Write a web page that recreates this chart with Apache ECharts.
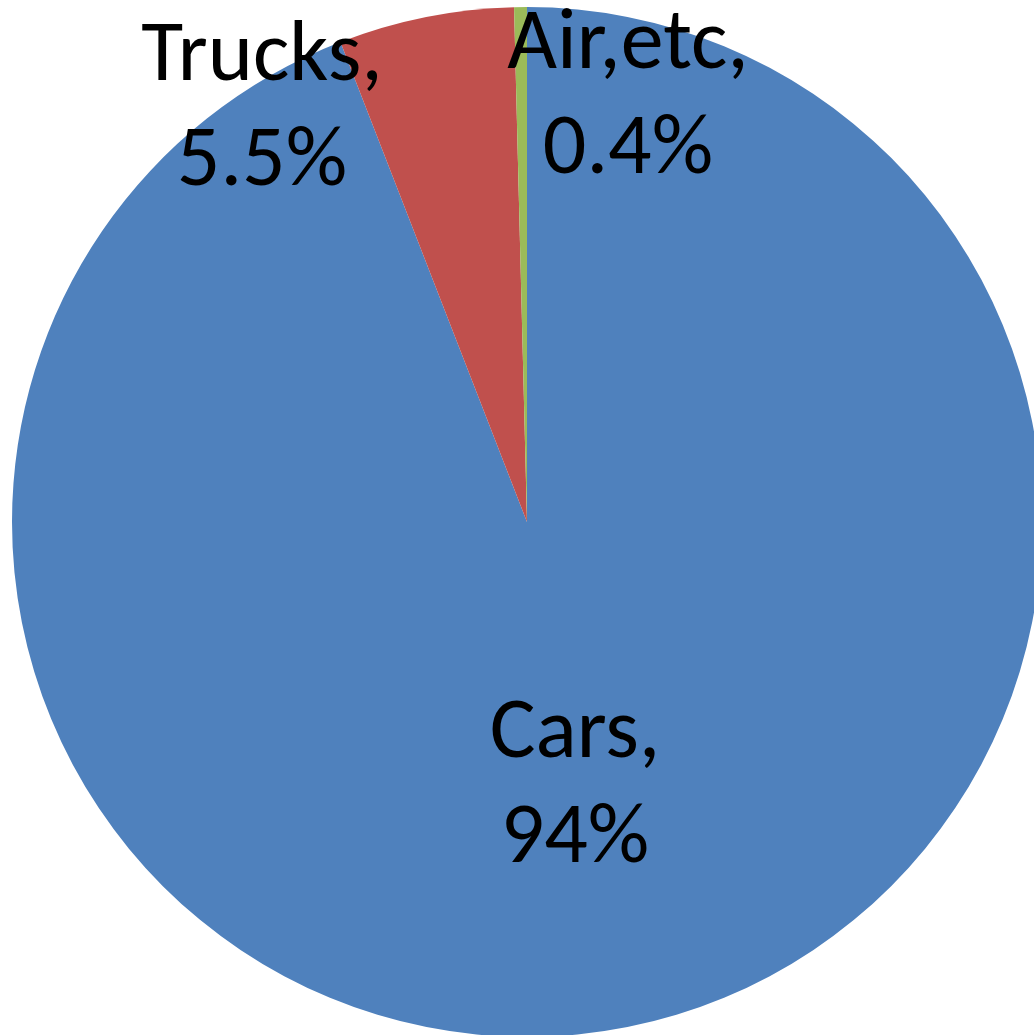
<!DOCTYPE html>
<html>
<head>
<meta charset="utf-8">
<script src="https://cdn.jsdelivr.net/npm/echarts@6/dist/echarts.min.js"></script>
<style>
  html, body { margin: 0; padding: 0; background: #fff; }
  #myChart { width: 1034px; height: 1035px; }
</style>
</head>
<body>
<div id="myChart"></div>
<script>
// chart data
var categories = ["Cars", "Trucks", "Air,etc"];
var shares = [94.1, 5.5, 0.4];
var shareLabels = ["94%", "5.5%", "0.4%"];
var sliceColors = ["#4F81BD", "#C0504D", "#9BBB59"];

// where Excel put the data labels (label centre, px)
var labelSpots = [[575, 788], [262, 111], [628, 99]];

var myChart = echarts.init(document.getElementById("myChart"));

var option = {
  animation: false,
  series: [
    {
      type: "pie",
      center: [527, 522],
      radius: [0, 515],
      startAngle: 90,
      clockwise: true,
      avoidLabelOverlap: false,
      itemStyle: { borderWidth: 0 },
      label: {
        show: true,
        position: "inside",
        formatter: function (p) {
          return p.name + ",\n" + shareLabels[p.dataIndex];
        },
        color: "#000",
        fontFamily: "Carlito, 'Liberation Sans', sans-serif",
        fontSize: 86,
        lineHeight: 105,
        align: "center",
        verticalAlign: "middle"
      },
      labelLine: { show: false },
      labelLayout: function (params) {
        var s = labelSpots[params.dataIndex];
        return { x: s[0], y: s[1], align: "center", verticalAlign: "middle" };
      },
      emphasis: { disabled: true },
      data: categories.map(function (c, i) {
        return { name: c, value: shares[i], itemStyle: { color: sliceColors[i] } };
      })
    }
  ]
};

myChart.setOption(option);
</script>
</body>
</html>
